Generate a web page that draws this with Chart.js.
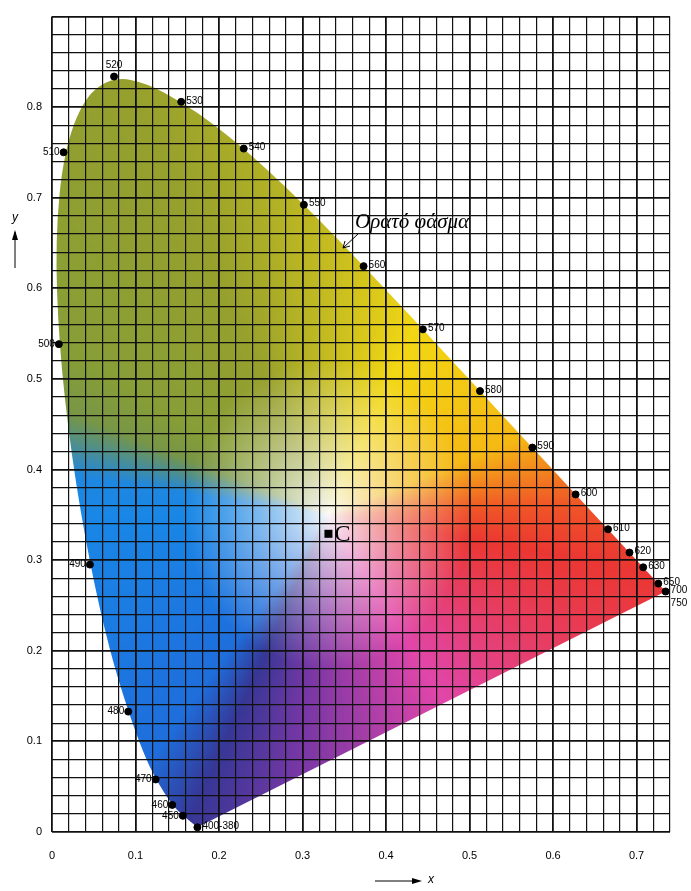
<!DOCTYPE html>
<html>
<head>
<meta charset="utf-8">
<script src="https://cdn.jsdelivr.net/npm/chart.js@4"></script>
<style>
  html, body { margin: 0; padding: 0; background: #fff; }
  #wrap { width: 691px; height: 891px; }
</style>
</head>
<body>
<div id="wrap"><canvas id="chart"></canvas></div>
<script>
// ---- Data: CIE 1931 spectral locus (x, y) ----
const locusX = [0.1741, 0.1566, 0.1440, 0.1241, 0.1096, 0.0913, 0.0687, 0.0454, 0.0235, 0.0082, 0.0039, 0.0139, 0.0389, 0.0743, 0.1142, 0.1547, 0.1929, 0.2296, 0.2658, 0.3016, 0.3373, 0.3731, 0.4087, 0.4441, 0.4788, 0.5125, 0.5448, 0.5752, 0.6029, 0.6270, 0.6482, 0.6658, 0.6915, 0.7079, 0.7260, 0.7347];
const locusY = [0.0050, 0.0177, 0.0297, 0.0578, 0.0868, 0.1327, 0.2007, 0.2950, 0.4127, 0.5384, 0.6548, 0.7502, 0.8120, 0.8338, 0.8262, 0.8059, 0.7816, 0.7543, 0.7243, 0.6923, 0.6589, 0.6245, 0.5896, 0.5547, 0.5202, 0.4866, 0.4544, 0.4242, 0.3965, 0.3725, 0.3514, 0.3340, 0.3083, 0.2920, 0.2740, 0.2653];

// labelled wavelengths
const markLabels = ['400-380', '450', '460', '470', '480', '490', '500', '510', '520', '530', '540', '550', '560', '570', '580', '590', '600', '610', '620', '630', '650', '700', '750'];
const markX = [0.1741, 0.1566, 0.1440, 0.1241, 0.0913, 0.0454, 0.0082, 0.0139, 0.0743, 0.1547, 0.2296, 0.3016, 0.3731, 0.4441, 0.5125, 0.5752, 0.6270, 0.6658, 0.6915, 0.7079, 0.7260, 0.7347, 0.7347];
const markY = [0.0050, 0.0177, 0.0297, 0.0578, 0.1327, 0.2950, 0.5384, 0.7502, 0.8338, 0.8059, 0.7543, 0.6923, 0.6245, 0.5547, 0.4866, 0.4242, 0.3725, 0.3340, 0.3083, 0.2920, 0.2740, 0.2653, 0.2653];
// label side: 'l' left, 'r' right, 't' top, 'rb' right-below
const markSide = ['r', 'l', 'l', 'l', 'l', 'l', 'l', 'l', 't', 'r', 'r', 'r', 'r', 'r', 'r', 'r', 'r', 'r', 'r', 'r', 'r', 'r', 'rb'];

const illumC = [0.331, 0.329];
const xTickLabels = ['0', '0.1', '0.2', '0.3', '0.4', '0.5', '0.6', '0.7'];
const yTickLabels = ['0', '0.1', '0.2', '0.3', '0.4', '0.5', '0.6', '0.7', '0.8'];

// print-like hue anchors, by angle (deg) seen from the white point
const hueAngles = [-180, -128, -116, -97, -56, -9, 2, 20, 63, 117, 150, 160, 172, 180];
const hueColors = [
    [25, 135, 230], [30, 110, 220], [55, 55, 150], [120, 55, 165], [225, 70, 170],
    [235, 55, 50], [240, 85, 40], [245, 185, 20], [242, 215, 20], [150, 160, 45],
    [135, 158, 55], [120, 150, 70], [30, 135, 225], [25, 135, 230],
];

const isTenth = v => Math.abs(v * 10 - Math.round(v * 10)) < 1e-6;
const tenthLabel = (v, list) => isTenth(v) ? (list[Math.round(v * 10)] ?? '') : '';

// ---- xy -> display colour ----
function xyToRgb(x, y) {
    const dx = x - 0.33, dy = y - 0.35;
    const ang = Math.atan2(dy, dx) * 180 / Math.PI;
    let k = 0;
    while (k < hueAngles.length - 2 && ang > hueAngles[k + 1]) k++;
    const t = Math.min(1, Math.max(0, (ang - hueAngles[k]) / (hueAngles[k + 1] - hueAngles[k])));
    const c0 = hueColors[k], c1 = hueColors[k + 1];
    const hue = c0.map((c, i) => c + (c1[i] - c) * t);
    const s = Math.min(1, Math.hypot(dx, dy) / 0.17);
    const e = Math.pow(s, 0.8);
    return hue.map(c => 250 + (c - 250) * e);
}

function smoothPath(sx, sy) {
    const pts = locusX.map((vx, i) => [sx.getPixelForValue(vx), sy.getPixelForValue(locusY[i])]);
    const p = new Path2D();
    p.moveTo(pts[0][0], pts[0][1]);
    for (let i = 1; i < pts.length - 1; i++) {
        const mx = (pts[i][0] + pts[i + 1][0]) / 2, my = (pts[i][1] + pts[i + 1][1]) / 2;
        p.quadraticCurveTo(pts[i][0], pts[i][1], mx, my);
    }
    p.lineTo(pts[pts.length - 1][0], pts[pts.length - 1][1]);
    p.closePath();
    return p;
}

const fillPlugin = {
    id: 'horseshoe',
    beforeDraw(chart) {
        const { ctx, chartArea: a, scales: { x: sx, y: sy } } = chart;
        const path = smoothPath(sx, sy);
        const w = Math.ceil(a.right - a.left), h = Math.ceil(a.bottom - a.top);
        const off = document.createElement('canvas');
        off.width = w; off.height = h;
        const octx = off.getContext('2d');
        const img = octx.createImageData(w, h);
        for (let j = 0; j < h; j++) {
            const vy = sy.getValueForPixel(a.top + j + 0.5);
            for (let i = 0; i < w; i++) {
                const vx = sx.getValueForPixel(a.left + i + 0.5);
                const [r, g, b] = xyToRgb(vx, vy);
                const k = (j * w + i) * 4;
                img.data[k] = r; img.data[k + 1] = g; img.data[k + 2] = b; img.data[k + 3] = 255;
            }
        }
        octx.putImageData(img, 0, 0);
        ctx.save();
        ctx.fillStyle = '#fff';
        ctx.fillRect(0, 0, chart.width, chart.height);
        ctx.clip(path);
        ctx.drawImage(off, a.left, a.top);
        ctx.restore();
    },
    afterDatasetsDraw(chart) {
        const { ctx, scales: { x: sx, y: sy } } = chart;
        ctx.save();
        ctx.fillStyle = '#000';
        ctx.font = '10px "Liberation Sans", Arial, sans-serif';
        ctx.textBaseline = 'middle';
        markLabels.forEach((t, i) => {
            const px = sx.getPixelForValue(markX[i]), py = sy.getPixelForValue(markY[i]);
            const s = markSide[i];
            if (s === 'l') { ctx.textAlign = 'right'; ctx.fillText(t, px - 4, py); }
            else if (s === 't') { ctx.textAlign = 'center'; ctx.fillText(t, px, py - 11); }
            else if (s === 'rb') { ctx.textAlign = 'left'; ctx.fillText(t, px + 5, py + 12); }
            else { ctx.textAlign = 'left'; ctx.fillText(t, px + 5, py - 1); }
        });
        // illuminant C
        const cx = sx.getPixelForValue(illumC[0]), cy = sy.getPixelForValue(illumC[1]);
        ctx.fillRect(cx - 4, cy - 4, 8, 8);
        ctx.font = '24px "Liberation Serif", serif';
        ctx.textAlign = 'left';
        ctx.fillText('C', cx + 6, cy + 1);
        // visible spectrum caption
        ctx.font = 'italic 21px "Liberation Serif", serif';
        ctx.fillText('Ορατό φάσμα', 355, 222);
        ctx.lineWidth = 1;
        ctx.strokeStyle = '#000';
        ctx.beginPath(); ctx.moveTo(358, 234); ctx.lineTo(343, 248); ctx.stroke();
        ctx.beginPath(); ctx.moveTo(343, 248); ctx.lineTo(345, 241); ctx.moveTo(343, 248); ctx.lineTo(350, 246); ctx.stroke();
        // axis titles with arrows
        ctx.font = 'italic 12px "Liberation Sans", sans-serif';
        ctx.textAlign = 'center';
        ctx.fillText('y', 15, 218);
        ctx.beginPath(); ctx.moveTo(15, 268); ctx.lineTo(15, 232); ctx.stroke();
        ctx.beginPath(); ctx.moveTo(12, 240); ctx.lineTo(15, 230); ctx.lineTo(18, 240); ctx.closePath(); ctx.fill();
        ctx.fillText('x', 431, 880);
        ctx.beginPath(); ctx.moveTo(375, 881); ctx.lineTo(414, 881); ctx.stroke();
        ctx.beginPath(); ctx.moveTo(412, 878); ctx.lineTo(422, 881); ctx.lineTo(412, 884); ctx.closePath(); ctx.fill();
        ctx.restore();
    },
};

new Chart(document.getElementById('chart'), {
    type: 'scatter',
    data: {
        datasets: [
            {
                data: locusX.map((v, i) => ({ x: v, y: locusY[i] })),
                showLine: true,
                borderWidth: 0,
                borderColor: 'rgba(0,0,0,0)',
                pointRadius: 0,
            },
            {
                data: markX.slice(0, -1).map((v, i) => ({ x: v, y: markY[i] })),
                backgroundColor: '#000',
                borderColor: '#000',
                pointRadius: 3.5,
            },
        ],
    },
    options: {
        responsive: true,
        maintainAspectRatio: false,
        animation: false,
        layout: { padding: { top: 15, right: 21, bottom: 10, left: 0 } },
        plugins: { legend: { display: false }, tooltip: { enabled: false } },
        scales: {
            x: {
                type: 'linear', min: 0, max: 0.74,
                border: { display: false },
                grid: { color: '#111', lineWidth: v => isTenth(v.tick.value) ? 1.8 : 1.2, drawTicks: false },
                ticks: {
                    stepSize: 0.02, autoSkip: false, maxRotation: 0, padding: 18,
                    color: '#000', font: { size: 11, family: '"Liberation Sans", Arial' },
                    callback: v => tenthLabel(v, xTickLabels),
                },
            },
            y: {
                type: 'linear', min: 0, max: 0.9,
                border: { display: false },
                afterFit: s => { s.width = 52; },
                grid: { color: '#111', lineWidth: v => isTenth(v.tick.value) ? 1.8 : 1.2, drawTicks: false },
                ticks: {
                    stepSize: 0.02, autoSkip: false, padding: 10,
                    color: '#000', font: { size: 11, family: '"Liberation Sans", Arial' },
                    callback: v => tenthLabel(v, yTickLabels),
                },
            },
        },
    },
    plugins: [fillPlugin],
});
</script>
</body>
</html>
